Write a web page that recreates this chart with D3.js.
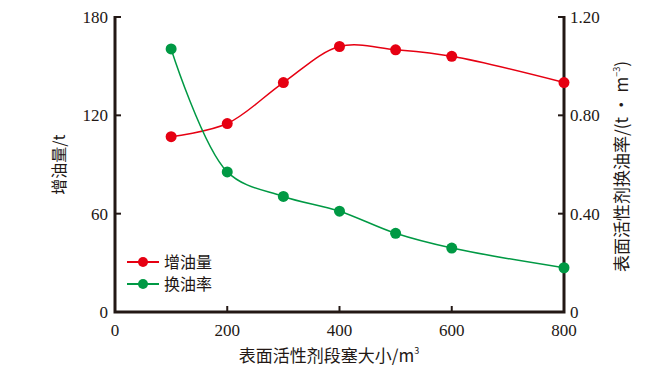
<!DOCTYPE html>
<html>
<head>
<meta charset="utf-8">
<script src="https://cdn.jsdelivr.net/npm/d3@7"></script>
<style>
  body { margin: 0; background: #fff; }
</style>
</head>
<body>
<div id="chart"></div>
<script>
// surfactant slug size, m^3
const slugSize = [100, 200, 300, 400, 500, 600, 800];
// incremental oil, t
const oilIncrease = [107, 115, 140, 162, 160, 156, 140];
// oil exchange ratio, t/m^3
const exchangeRatio = [1.07, 0.57, 0.47, 0.41, 0.32, 0.26, 0.18];

const xTicks = [0, 200, 400, 600, 800];
const yLeftTicks = [0, 60, 120, 180];
const yRightTicks = [0, 0.4, 0.8, 1.2];

const red = "#e60012";
const green = "#009944";
const axisColor = "#231815";
const serif = "Liberation Serif, DejaVu Serif, Times New Roman, serif";
const cjk = "Noto Sans CJK SC, sans-serif";

const width = 645, height = 374;
const margin = { left: 115, right: 81, top: 17, bottom: 62 };

const svg = d3.select("#chart")
  .append("svg")
  .attr("width", width)
  .attr("height", height);

const x = d3.scaleLinear().domain([0, 800]).range([margin.left, width - margin.right]);
const yL = d3.scaleLinear().domain([0, 180]).range([height - margin.bottom, margin.top]);
const yR = d3.scaleLinear().domain([0, 1.2]).range([height - margin.bottom, margin.top]);

const x0 = x(0), x1 = x(800), yb = yL(0), yt = yL(180);

// axes frame (left, bottom, right)
svg.append("path")
  .attr("d", `M${x0},${yt - 1}V${yb}H${x1}V${yt - 1}`)
  .attr("fill", "none")
  .attr("stroke", axisColor)
  .attr("stroke-width", 3);

// ticks pointing inward
const tickLen = 6;
svg.selectAll(".tl").data(yLeftTicks).enter().append("line")
  .attr("x1", x0).attr("x2", x0 + tickLen)
  .attr("y1", d => yL(d)).attr("y2", d => yL(d))
  .attr("stroke", axisColor).attr("stroke-width", 2);
svg.selectAll(".tr").data(yRightTicks).enter().append("line")
  .attr("x1", x1).attr("x2", x1 - tickLen)
  .attr("y1", d => yR(d)).attr("y2", d => yR(d))
  .attr("stroke", axisColor).attr("stroke-width", 2);
svg.selectAll(".tb").data(xTicks.slice(1, -1)).enter().append("line")
  .attr("x1", d => x(d)).attr("x2", d => x(d))
  .attr("y1", yb).attr("y2", yb - tickLen)
  .attr("stroke", axisColor).attr("stroke-width", 2);

function num(sel) {
  return sel.style("font-family", serif).style("font-size", "17px").attr("fill", axisColor);
}

// tick labels
svg.selectAll(".ll").data(yLeftTicks).enter().append("text")
  .call(num)
  .attr("x", x0 - 7).attr("y", d => yL(d) + 6)
  .attr("text-anchor", "end")
  .text(d => d);
svg.selectAll(".rl").data(yRightTicks).enter().append("text")
  .call(num)
  .attr("x", x1 + 6).attr("y", d => yR(d) + 6)
  .text(d => d === 0 ? "0" : d.toFixed(2));
svg.selectAll(".bl").data(xTicks).enter().append("text")
  .call(num)
  .attr("x", d => x(d)).attr("y", yb + 24)
  .attr("text-anchor", "middle")
  .text(d => d);

// axis titles
svg.append("text")
  .style("font-family", cjk).style("font-size", "17px").attr("fill", axisColor)
  .attr("transform", `translate(329,${yb + 50})`)
  .attr("text-anchor", "middle")
  .html('表面活性剂段塞大小/m<tspan dy="-8" font-size="9">3</tspan>');

svg.append("text")
  .style("font-family", cjk).style("font-size", "16px").attr("fill", axisColor)
  .attr("transform", `translate(65,${(yt + yb) / 2}) rotate(-90)`)
  .attr("text-anchor", "middle")
  .text("增油量/t");

svg.append("text")
  .style("font-family", cjk).style("font-size", "17px").attr("fill", axisColor)
  .attr("transform", `translate(628,${(yt + yb) / 2 + 2}) rotate(-90)`)
  .attr("text-anchor", "middle")
  .html('表面活性剂换油率/(t · m<tspan dy="-8" font-size="9">−3</tspan><tspan dy="8">)</tspan>');

// series
const series = [
  { name: "增油量", values: oilIncrease, scale: yL, color: red },
  { name: "换油率", values: exchangeRatio, scale: yR, color: green }
];

series.forEach(s => {
  const pts = slugSize.map((v, i) => [v, s.values[i]]);
  const line = d3.line()
    .x(d => x(d[0]))
    .y(d => s.scale(d[1]))
    .curve(d3.curveCatmullRom.alpha(0.5));
  svg.append("path")
    .datum(pts)
    .attr("d", line)
    .attr("fill", "none")
    .attr("stroke", s.color)
    .attr("stroke-width", 1.5);
  svg.selectAll(null).data(pts).enter().append("circle")
    .attr("cx", d => x(d[0]))
    .attr("cy", d => s.scale(d[1]))
    .attr("r", 5.5)
    .attr("fill", s.color);
});

// legend
const legend = svg.append("g").attr("transform", "translate(127,262)");
series.forEach((s, i) => {
  const g = legend.append("g").attr("transform", `translate(0,${i * 22})`);
  g.append("line").attr("x1", 0).attr("x2", 32).attr("y1", 0).attr("y2", 0)
    .attr("stroke", s.color).attr("stroke-width", 2);
  g.append("circle").attr("cx", 16).attr("cy", 0).attr("r", 5).attr("fill", s.color);
  g.append("text").style("font-family", cjk).style("font-size", "16px").attr("fill", axisColor)
    .attr("x", 37).attr("y", 6).text(s.name);
});
</script>
</body>
</html>
